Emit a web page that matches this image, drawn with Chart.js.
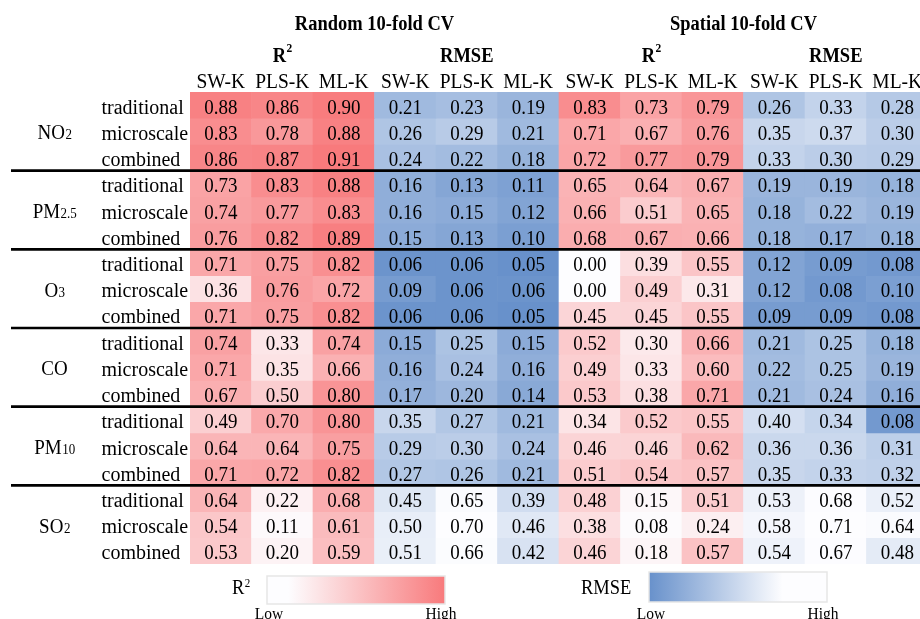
<!DOCTYPE html>
<html><head><meta charset="utf-8">
<script src="https://cdn.jsdelivr.net/npm/chart.js@4/dist/chart.umd.min.js"></script>
<style>
html,body{margin:0;padding:0;background:#fff;overflow:hidden;width:920px;height:619px}
#wrap{position:absolute;left:0;top:0;width:928px;height:619px}
</style>
</head><body><div id="wrap"><canvas id="c" width="928" height="619"></canvas></div>
<script>
// ---------- data ----------
const cvSchemes = ['Random 10-fold CV', 'Spatial 10-fold CV'];
const metrics = ['R2', 'RMSE'];
const models = ['SW-K', 'PLS-K', 'ML-K'];
const pollutantMain = ['NO', 'PM', 'O', 'CO', 'PM', 'SO'];
const pollutantSub = ['2', '2.5', '3', '', '10', '2'];
const featureSets = ['traditional', 'microscale', 'combined'];

// rows: pollutant x feature set; columns: SW-K, PLS-K, ML-K
const randomR2 = [
  [0.88, 0.86, 0.90], [0.83, 0.78, 0.88], [0.86, 0.87, 0.91],
  [0.73, 0.83, 0.88], [0.74, 0.77, 0.83], [0.76, 0.82, 0.89],
  [0.71, 0.75, 0.82], [0.36, 0.76, 0.72], [0.71, 0.75, 0.82],
  [0.74, 0.33, 0.74], [0.71, 0.35, 0.66], [0.67, 0.50, 0.80],
  [0.49, 0.70, 0.80], [0.64, 0.64, 0.75], [0.71, 0.72, 0.82],
  [0.64, 0.22, 0.68], [0.54, 0.11, 0.61], [0.53, 0.20, 0.59]
];
const randomRMSE = [
  [0.21, 0.23, 0.19], [0.26, 0.29, 0.21], [0.24, 0.22, 0.18],
  [0.16, 0.13, 0.11], [0.16, 0.15, 0.12], [0.15, 0.13, 0.10],
  [0.06, 0.06, 0.05], [0.09, 0.06, 0.06], [0.06, 0.06, 0.05],
  [0.15, 0.25, 0.15], [0.16, 0.24, 0.16], [0.17, 0.20, 0.14],
  [0.35, 0.27, 0.21], [0.29, 0.30, 0.24], [0.27, 0.26, 0.21],
  [0.45, 0.65, 0.39], [0.50, 0.70, 0.46], [0.51, 0.66, 0.42]
];
const spatialR2 = [
  [0.83, 0.73, 0.79], [0.71, 0.67, 0.76], [0.72, 0.77, 0.79],
  [0.65, 0.64, 0.67], [0.66, 0.51, 0.65], [0.68, 0.67, 0.66],
  [0.00, 0.39, 0.55], [0.00, 0.49, 0.31], [0.45, 0.45, 0.55],
  [0.52, 0.30, 0.66], [0.49, 0.33, 0.60], [0.53, 0.38, 0.71],
  [0.34, 0.52, 0.55], [0.46, 0.46, 0.62], [0.51, 0.54, 0.57],
  [0.48, 0.15, 0.51], [0.38, 0.08, 0.24], [0.46, 0.18, 0.57]
];
const spatialRMSE = [
  [0.26, 0.33, 0.28], [0.35, 0.37, 0.30], [0.33, 0.30, 0.29],
  [0.19, 0.19, 0.18], [0.18, 0.22, 0.19], [0.18, 0.17, 0.18],
  [0.12, 0.09, 0.08], [0.12, 0.08, 0.10], [0.09, 0.09, 0.08],
  [0.21, 0.25, 0.18], [0.22, 0.25, 0.19], [0.21, 0.24, 0.16],
  [0.40, 0.34, 0.08], [0.36, 0.36, 0.31], [0.35, 0.33, 0.32],
  [0.53, 0.68, 0.52], [0.58, 0.71, 0.64], [0.54, 0.67, 0.48]
];

// ---------- derived structures ----------
const SERIF = '"Liberation Serif","Times New Roman",serif';
const RED = [248, 122, 124], BLUE = [104, 145, 203], WHITE = [253, 253, 255];
const GAMMA = 1.7;
const V_STRETCH = 1.08;
const tables = [[randomR2, randomRMSE], [spatialR2, spatialRMSE]];
const columns = [];
cvSchemes.forEach((cv, ci) => metrics.forEach((m, mi) => models.forEach((md, k) =>
  columns.push({ cv: ci, metric: mi, model: k, key: cv + ' ' + m + ' ' + md }))));
const rowKeys = [];
pollutantMain.forEach((p, pi) => featureSets.forEach(f => rowKeys.push(p + pollutantSub[pi] + ' ' + f)));

const r2All = randomR2.flat().concat(spatialR2.flat());
const rmseAll = randomRMSE.flat().concat(spatialRMSE.flat());
const r2Min = Math.min(...r2All), r2Max = Math.max(...r2All);
const rmMin = Math.min(...rmseAll), rmMax = Math.max(...rmseAll);

function cellValue(r, c) {
  const col = columns[c];
  return tables[col.cv][col.metric][r][col.model];
}
function mix(a, b, t) {
  return 'rgb(' + a.map((v, i) => Math.round(v + (b[i] - v) * t)).join(',') + ')';
}
function cellColor(c, v) {
  if (columns[c].metric === 0) {
    const t = Math.pow((v - r2Min) / (r2Max - r2Min), GAMMA);
    return mix(WHITE, RED, t);
  }
  const t = Math.pow((rmMax - v) / (rmMax - rmMin), GAMMA);
  return mix(WHITE, BLUE, t);
}

const datasets = rowKeys.map((rk, r) => ({
  label: rk,
  data: columns.map(() => [r, r + 1]),
  backgroundColor: columns.map((col, c) => cellColor(c, cellValue(r, c))),
  borderWidth: 0,
  barPercentage: 1,
  categoryPercentage: 1
}));

// ---------- drawing helpers ----------
function txt(ctx, s, x, y, size, opts) {
  opts = opts || {};
  ctx.save();
  ctx.font = (opts.bold ? 'bold ' : '') + size + 'px ' + SERIF;
  ctx.textAlign = opts.align || 'center';
  ctx.textBaseline = opts.baseline || 'alphabetic';
  ctx.fillStyle = opts.color || '#000';
  ctx.translate(x, y);
  ctx.scale(1, opts.noStretch ? 1 : V_STRETCH);
  ctx.fillText(s, 0, 0);
  ctx.restore();
}
function measure(ctx, s, size, bold) {
  ctx.font = (bold ? 'bold ' : '') + size + 'px ' + SERIF;
  return ctx.measureText(s).width;
}
// main text + small suffix (sub or sup), centered at cx
function compound(ctx, main, small, cx, baseY, size, smallSize, rise, bold, align) {
  const w1 = measure(ctx, main, size, bold);
  const w2 = small ? measure(ctx, small, smallSize, bold) : 0;
  let x0 = align === 'left' ? cx : cx - (w1 + w2) / 2;
  txt(ctx, main, x0, baseY, size, { bold, align: 'left' });
  if (small) txt(ctx, small, x0 + w1 + 0.5, baseY - rise, smallSize, { bold, align: 'left' });
}

const tablePlugin = {
  id: 'tableDecor',
  afterDraw(chart) {
    const ctx = chart.ctx;
    const xs = chart.scales.x, ys = chart.scales.y;
    ctx.save();
    // cell values
    chart.data.datasets.forEach((ds, r) => {
      const meta = chart.getDatasetMeta(r);
      meta.data.forEach((el, c) => {
        const cy = (el.y + el.base) / 2;
        txt(ctx, cellValue(r, c).toFixed(2), el.x, cy + 8.5, 19);
      });
    });
    // header: CV schemes
    cvSchemes.forEach((cv, ci) => {
      const cx = (xs.getPixelForValue(ci * 6 + 2) + xs.getPixelForValue(ci * 6 + 3)) / 2;
      txt(ctx, cv, cx, 29.5, 18.5, { bold: true });
    });
    // header: metrics
    columns.forEach((col, c) => {
      if (col.model !== 1) return;
      const cx = xs.getPixelForValue(c);
      if (col.metric === 0) compound(ctx, 'R', '2', cx, 61.5, 18.5, 11.5, 10, true);
      else txt(ctx, metrics[1], cx, 61.5, 18.5, { bold: true });
    });
    // header: models
    columns.forEach((col, c) => txt(ctx, models[col.model], xs.getPixelForValue(c), 88, 19.5));
    // row labels
    rowKeys.forEach((rk, r) => {
      const cy = ys.getPixelForValue(r + 0.5);
      txt(ctx, featureSets[r % 3], 101.5, cy + 8.5, 20, { align: 'left' });
    });
    // pollutant labels
    pollutantMain.forEach((p, pi) => {
      const cy = ys.getPixelForValue(pi * 3 + 1.5);
      compound(ctx, p, pollutantSub[pi], 54.5, cy + 8, 19, 13, 0, false);
    });
    // separators
    ctx.strokeStyle = '#000';
    ctx.lineWidth = 2.6;
    for (let k = 1; k < pollutantMain.length; k++) {
      const y = ys.getPixelForValue(k * 3);
      ctx.beginPath(); ctx.moveTo(11, y); ctx.lineTo(chart.width, y); ctx.stroke();
    }
    // legends
    function legendBox(x, y, w, h, stops) {
      const g = ctx.createLinearGradient(x, 0, x + w, 0);
      stops.forEach(s => g.addColorStop(s[0], s[1]));
      ctx.fillStyle = g;
      ctx.fillRect(x, y, w, h);
      ctx.strokeStyle = '#e6e6e6';
      ctx.lineWidth = 1.5;
      ctx.strokeRect(x, y, w, h);
      txt(ctx, 'Low', x + 2, 606, 15.5, { baseline: 'top' });
      txt(ctx, 'High', x + w - 4, 606, 15.5, { baseline: 'top' });
    }
    legendBox(267, 576, 178, 28, [[0, mix(WHITE, RED, 0)], [0.12, mix(WHITE, RED, 0)], [1, mix(WHITE, RED, 1)]]);
    compound(ctx, 'R', '2', 232, 594, 18.5, 11, 7, false, 'left');
    legendBox(649, 572, 178, 30, [[0, mix(WHITE, BLUE, 1)], [0.75, mix(WHITE, BLUE, 0)], [1, mix(WHITE, BLUE, 0)]]);
    txt(ctx, metrics[1], 581, 594, 18.5, { align: 'left' });
    ctx.restore();
  }
};

new Chart(document.getElementById('c'), {
  type: 'bar',
  data: { labels: columns.map(c => c.key), datasets },
  options: {
    responsive: false,
    animation: false,
    events: [],
    layout: { padding: { left: 190, right: 0, top: 92, bottom: 55 } },
    scales: {
      x: { type: 'category', stacked: true, display: false, offset: true, grid: { display: false } },
      y: { type: 'linear', min: 0, max: 18, reverse: true, stacked: false, display: false }
    },
    plugins: { legend: { display: false }, tooltip: { enabled: false } }
  },
  plugins: [tablePlugin]
});
</script>
</body></html>
